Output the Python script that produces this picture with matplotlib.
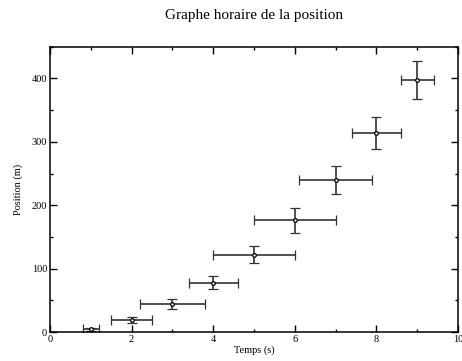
import matplotlib
matplotlib.use("Agg")
import matplotlib.pyplot as plt
from matplotlib.ticker import MultipleLocator

plt.rcParams['font.family'] = ['Liberation Serif', 'DejaVu Serif']

temps = [1, 2, 3, 4, 5, 6, 7, 8, 9]
position = [4, 19, 44, 78, 122, 176, 240, 314, 397]
err_position = [2, 4.5, 8, 10, 13, 20, 22, 25, 30]
err_temps = [0.2, 0.5, 0.8, 0.6, 1.0, 1.0, 0.9, 0.6, 0.4]

fig = plt.figure(figsize=(4.62, 3.61), dpi=100)
ax = fig.add_axes([0.1082, 0.0803, 0.8831, 0.7903])

ax.errorbar(temps, position, xerr=err_temps, yerr=err_position,
            fmt='o', ms=2.6, mfc='white', mec='black', mew=0.9,
            ecolor='#333333', elinewidth=1.2, capsize=3.5, capthick=1.2)

ax.set_xlim(0, 10)
ax.set_ylim(0, 450)
ax.xaxis.set_major_locator(MultipleLocator(2))
ax.xaxis.set_minor_locator(MultipleLocator(1))
ax.yaxis.set_major_locator(MultipleLocator(100))
ax.yaxis.set_minor_locator(MultipleLocator(50))
ax.tick_params(which='both', direction='in', top=True, right=True,
               labelsize=7.5, width=1, pad=2)
ax.tick_params(which='major', length=5)
ax.tick_params(which='minor', length=2.5)
for s in ax.spines.values():
    s.set_linewidth(1.1)

ax.set_title('Graphe horaire de la position', fontsize=11, pad=20)
ax.set_xlabel('Temps (s)', fontsize=7.5, labelpad=1)
ax.set_ylabel('Position (m)', fontsize=7.5, labelpad=6)

fig.savefig('out.png', dpi=100)
